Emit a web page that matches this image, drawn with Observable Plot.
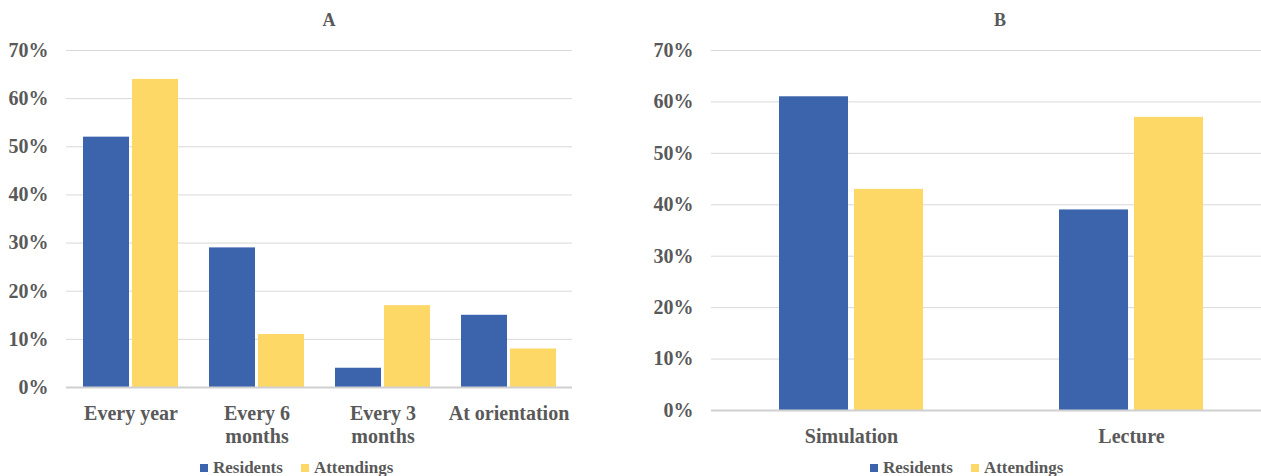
<!DOCTYPE html>
<html>
<head>
<meta charset="utf-8">
<script src="https://cdn.jsdelivr.net/npm/d3@7"></script>
<script src="https://cdn.jsdelivr.net/npm/@observablehq/plot@0.6"></script>
<style>
  html, body { margin: 0; padding: 0; background: #ffffff; overflow: hidden; }
  #wrap { position: relative; width: 1261px; height: 476px; overflow: hidden; background: #ffffff; }
  #wrap svg { display: block; max-width: none; }
  .panel { position: absolute; top: 0; }
  .title, .legend {
    position: absolute;
    z-index: 2;
    font-family: "Liberation Serif", "Times New Roman", serif;
    font-weight: bold;
    color: #595959;
    white-space: nowrap;
  }
  .title { font-size: 18px; line-height: 18px; top: 11px; width: 100px; text-align: center; }
  .legend { font-size: 17px; line-height: 17px; top: 459px; }
  .legend .swatch { display: inline-block; width: 8px; height: 8px; margin-right: 5px; position: relative; top: -1px; }
  .legend .item { margin-right: 18px; }
</style>
</head>
<body>
<div id="wrap">
  <div class="panel" id="panelA" style="left:0px;width:600px"></div>
  <div class="panel" id="panelB" style="left:620px;width:651px"></div>
  <div class="title" style="left:279px">A</div>
  <div class="title" style="left:950px">B</div>
  <div class="legend" id="legendA" style="left:200px"></div>
  <div class="legend" id="legendB" style="left:870px"></div>
</div>
<script>
// Panel A: how often training should happen
const freqCategories = ["Every year", "Every 6 months", "Every 3 months", "At orientation"];
const freqTickLabels = ["Every year", "Every 6\nmonths", "Every 3\nmonths", "At orientation"];
const freqResidents = [0.52, 0.29, 0.04, 0.15];
const freqAttendings = [0.64, 0.11, 0.17, 0.08];

// Panel B: preferred training format
const formatCategories = ["Simulation", "Lecture"];
const formatTickLabels = ["Simulation", "Lecture"];
const formatResidents = [0.61, 0.39];
const formatAttendings = [0.43, 0.57];

const seriesNames = ["Residents", "Attendings"];
const seriesColors = ["#3B64AD", "#FDD866"];
const yTicks = [0, 0.1, 0.2, 0.3, 0.4, 0.5, 0.6, 0.7];

const pct = d3.format(".0%");

function groupedBars({categories, tickLabels, residents, attendings, width, height,
                      marginLeft, marginRight, marginTop, marginBottom,
                      paddingInner, paddingOuter, gap}) {
  // band width of each category group, used to split it into two side-by-side bars
  const bandwidth = d3.scaleBand()
    .domain(categories)
    .range([marginLeft, width - marginRight])
    .paddingInner(paddingInner)
    .paddingOuter(paddingOuter)
    .bandwidth();
  const half = bandwidth / 2 + gap / 2;
  const rows = categories.map((c, i) => ({
    category: c, label: tickLabels[i], residents: residents[i], attendings: attendings[i]
  }));
  return Plot.plot({
    width, height, marginLeft, marginRight, marginTop, marginBottom,
    x: {type: "band", domain: categories, paddingInner, paddingOuter, axis: null},
    y: {domain: [0, 0.7], axis: null},
    style: {
      fontFamily: '"Liberation Serif", "Times New Roman", serif',
      fontSize: "20px",
      fontWeight: "bold",
      color: "#595959",
      background: "#ffffff",
      maxWidth: "none",
      overflow: "visible"
    },
    marks: [
      Plot.ruleY(yTicks.slice(1), {stroke: "#d9d9d9", strokeWidth: 1}),
      Plot.barY(rows, {x: "category", y: "residents", fill: seriesColors[0], insetRight: half}),
      Plot.barY(rows, {x: "category", y: "attendings", fill: seriesColors[1], insetLeft: half}),
      Plot.ruleY([0], {stroke: "#d0d0d0", strokeWidth: 2}),
      Plot.text(yTicks, {y: d => d, text: d => pct(d), frameAnchor: "left", textAnchor: "end", dx: -18}),
      Plot.text(rows, {x: "category", text: "label", frameAnchor: "bottom",
                       lineAnchor: "top", lineHeight: 1.15, dy: 16})
    ]
  });
}

document.getElementById("panelA").append(groupedBars({
  categories: freqCategories, tickLabels: freqTickLabels,
  residents: freqResidents, attendings: freqAttendings,
  width: 600, height: 452, marginLeft: 66, marginRight: 28, marginTop: 50, marginBottom: 65,
  paddingInner: 0.249, paddingOuter: 0.1245, gap: 3
}));

document.getElementById("panelB").append(groupedBars({
  categories: formatCategories, tickLabels: formatTickLabels,
  residents: formatResidents, attendings: formatAttendings,
  width: 651, height: 452, marginLeft: 91, marginRight: 0, marginTop: 50, marginBottom: 42,
  paddingInner: 0.484, paddingOuter: 0.242, gap: 5.5
}));

function legend(el) {
  seriesNames.forEach((name, i) => {
    const item = document.createElement("span");
    item.className = "item";
    const sw = document.createElement("span");
    sw.className = "swatch";
    sw.style.background = seriesColors[i];
    item.append(sw, document.createTextNode(name));
    el.append(item);
  });
}
legend(document.getElementById("legendA"));
legend(document.getElementById("legendB"));
</script>
</body>
</html>
